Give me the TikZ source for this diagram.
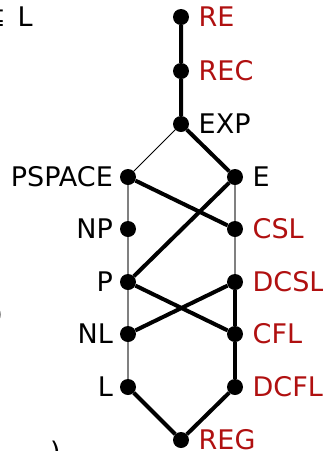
\documentclass[tikz,border=0pt]{standalone}
\usepackage{fontspec}
\setmainfont{DejaVu Sans}
\begin{document}
\begin{tikzpicture}[x=1pt,y=-1pt,
  dot/.style={circle,fill=black,inner sep=0pt,minimum size=16pt},
  lab/.style={inner sep=0pt,font=\fontsize{27}{30}\selectfont},
  rlab/.style={lab,anchor=base west,xshift=17.5pt,yshift=-9.8pt},
  llab/.style={lab,anchor=base east,xshift=-15pt,yshift=-9.8pt},
  redlab/.style={text={rgb,255:red,176;green,16;blue,16}},
  strong/.style={line width=4pt},
  weak/.style={line width=1.2pt,draw=gray},
  weakb/.style={line width=1pt,draw=black}]
\useasboundingbox (0,0) rectangle (323,451);
\clip (0,0) rectangle (323,451);

% class nodes
\node[dot] (RE)     at (181,17)  {};
\node[dot] (REC)    at (181,71)  {};
\node[dot] (EXP)    at (181,124) {};
\node[dot] (PSPACE) at (128,177) {};
\node[dot] (E)      at (235,177) {};
\node[dot] (NP)     at (128,229) {};
\node[dot] (CSL)    at (235,229) {};
\node[dot] (P)      at (128,282) {};
\node[dot] (DCSL)   at (235,282) {};
\node[dot] (NL)     at (128,334) {};
\node[dot] (CFL)    at (235,334) {};
\node[dot] (L)      at (128,387) {};
\node[dot] (DCFL)   at (235,387) {};
\node[dot] (REG)    at (181,440) {};

% labels
\node[rlab,redlab] at (RE)   {RE};
\node[rlab,redlab] at (REC)  {REC};
\node[rlab]        at (EXP)  {EXP};
\node[rlab]        at (E)    {E};
\node[rlab,redlab] at (CSL)  {CSL};
\node[rlab,redlab] at (DCSL) {DCSL};
\node[rlab,redlab] at (CFL)  {CFL};
\node[rlab,redlab] at (DCFL) {DCFL};
\node[rlab,redlab,yshift=0.5pt] at (REG) {REG};
\node[llab] at (PSPACE) {PSPACE};
\node[llab] at (NP)     {NP};
\node[llab] at (P)      {P};
\node[llab] at (NL)     {NL};
\node[llab] at (L)      {L};

% thin inclusions
\draw[weak] (PSPACE) -- (NP) -- (P) -- (NL) -- (L);
\draw[weak] (E) -- (CSL) -- (DCSL);
\draw[weakb] (EXP) -- (PSPACE);

% strong inclusions
\draw[strong] (RE) -- (REC) -- (EXP) -- (E);
\draw[strong] (PSPACE) -- (CSL);
\draw[strong] (E) -- (P);
\draw[strong] (P) -- (CFL);
\draw[strong] (NL) -- (DCSL);
\draw[strong] (DCSL) -- (CFL) -- (DCFL);
\draw[strong] (L) -- (REG) -- (DCFL);

% text cut by the frame edge
\node[lab,anchor=base east] (subs) at (6,26) {⊆};
\node[lab,anchor=base west] (lfrag) at (17.5,26) {L};
\node[lab,anchor=east] (rpar1) at (3,315) {)};
\node[lab,anchor=north west] (rpar2) at (50,441) {)};
\end{tikzpicture}
\end{document}
